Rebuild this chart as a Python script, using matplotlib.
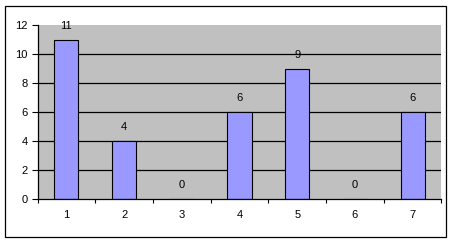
import matplotlib
matplotlib.use("Agg")
import matplotlib.pyplot as plt
from matplotlib.patches import Rectangle
import numpy as np

categories = ["1", "2", "3", "4", "5", "6", "7"]
values = [11, 4, 0, 6, 9, 0, 6]
yticks = [0, 2, 4, 6, 8, 10, 12]

plt.rcParams['font.family'] = ['Liberation Sans', 'DejaVu Sans']

fig = plt.figure(figsize=(4.56, 2.41), dpi=100)
fig.patch.set_facecolor('white')
ax = fig.add_axes([37.5/456, 1-199/241, (441.5-37.5)/456, (199-25)/241])
ax.set_facecolor('#C0C0C0')

x = np.arange(len(categories))
ax.bar(x, values, width=0.42, color='#9999FF', edgecolor='black', linewidth=0.8, zorder=3)
for xi, v in zip(x, values):
    ax.annotate(str(v), (xi, v), xytext=(0, 10), textcoords='offset points',
                ha='center', va='center', fontsize=8, color='black')

ax.set_xlim(-0.5, len(categories) - 0.5)
ax.set_ylim(0, 12)
ax.set_yticks(yticks)
ax.set_yticklabels([str(t) for t in yticks], fontsize=8)
ax.set_xticks(np.arange(len(categories) + 1) - 0.5)
ax.set_xticklabels([])
ax.set_xticks(x, minor=True)
ax.set_xticklabels(categories, minor=True, fontsize=8)
ax.tick_params(axis='x', which='major', length=3, width=0.8, direction='out')
ax.tick_params(axis='x', which='minor', length=0, pad=8)
ax.tick_params(axis='y', length=4, width=0.8, direction='out', pad=3)

ax.yaxis.grid(True, color='black', linewidth=0.9, zorder=1)
ax.set_axisbelow(True)
gl = ax.yaxis.get_gridlines()
gl[-1].set_visible(False)
gl[0].set_visible(False)

for s in ['top', 'right']:
    ax.spines[s].set_visible(False)
for s in ['left', 'bottom']:
    ax.spines[s].set_linewidth(0.9)
    ax.spines[s].set_zorder(4)

fig.patches.append(Rectangle((5.5/456, 1-237/241), (446-5.5)/456, (237-5.5)/241,
                             transform=fig.transFigure, fill=False,
                             edgecolor='black', linewidth=0.9))

fig.savefig('out.png', dpi=100)
